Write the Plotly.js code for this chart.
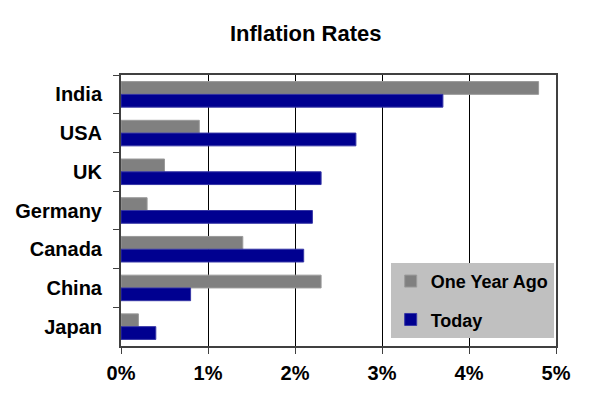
<!DOCTYPE html>
<html>
<head>
<meta charset="utf-8">
<script src="https://cdn.plot.ly/plotly-3.0.1.min.js"></script>
<style>html,body{margin:0;padding:0;background:#fff;}#chart{width:596px;height:398px;}</style>
</head>
<body>
<div id="chart"></div>
<script>
const countries = ["India", "USA", "UK", "Germany", "Canada", "China", "Japan"];
const oneYearAgo = [4.8, 0.9, 0.5, 0.3, 1.4, 2.3, 0.2];
const today = [3.7, 2.7, 2.3, 2.2, 2.1, 0.8, 0.4];
const xTickVals = [0, 1, 2, 3, 4, 5];
const xTickText = ["0%", "1%", "2%", "3%", "4%", "5%"];

const FONT = "Liberation Sans, Arial, Helvetica, sans-serif";

const traces = [
  {
    type: "bar", orientation: "h", name: "One Year Ago",
    y: countries, x: oneYearAgo, legendgroup: "a",
    marker: {color: "#808080", line: {color: "#9a9a9a", width: 1}}
  },
  {
    type: "bar", orientation: "h", name: "Today",
    y: countries, x: today, legendgroup: "b",
    marker: {color: "#000090", line: {color: "#3535a5", width: 1}}
  }
];

const layout = {
  width: 596, height: 398,
  margin: {l: 121, r: 40, t: 75, b: 52},
  paper_bgcolor: "#ffffff", plot_bgcolor: "#ffffff",
  font: {family: FONT, color: "#000", weight: "bold"},
  title: {
    text: "Inflation Rates",
    font: {family: FONT, size: 22, weight: "bold", color: "#000"},
    xref: "container", x: 0.513, xanchor: "center",
    yref: "container", y: 0.916, yanchor: "middle"
  },
  barmode: "group",
  bargap: 0.34, bargroupgap: 0,
  showlegend: true,
  legend: {
    x: 0.62, xanchor: "left", y: 0.03, yanchor: "bottom",
    bgcolor: "#c0c0c0", borderwidth: 0,
    font: {family: FONT, size: 18, weight: "bold", color: "#000"},
    traceorder: "grouped", tracegroupgap: 12
  },
  xaxis: {
    range: [0, 5], tickvals: xTickVals, ticktext: xTickText,
    showgrid: true, gridcolor: "#000", gridwidth: 1,
    zeroline: false,
    showline: true, linecolor: "#404040", linewidth: 2, mirror: true,
    ticks: "outside", ticklen: 6, tickcolor: "#404040", tickwidth: 1,
    ticklabelstandoff: 2,
    tickfont: {family: FONT, size: 20, weight: "bold", color: "#000"},
    fixedrange: true
  },
  yaxis: {
    type: "category", autorange: "reversed",
    showgrid: false, zeroline: false,
    showline: true, linecolor: "#404040", linewidth: 2, mirror: true,
    ticks: "outside", ticklen: 6, tickcolor: "#404040", tickwidth: 1,
    tickson: "boundaries",
    ticklabelstandoff: 13,
    tickfont: {family: FONT, size: 20, weight: "bold", color: "#000"},
    fixedrange: true
  }
};

Plotly.newPlot("chart", traces, layout, {displayModeBar: false, staticPlot: true});
</script>
</body>
</html>
